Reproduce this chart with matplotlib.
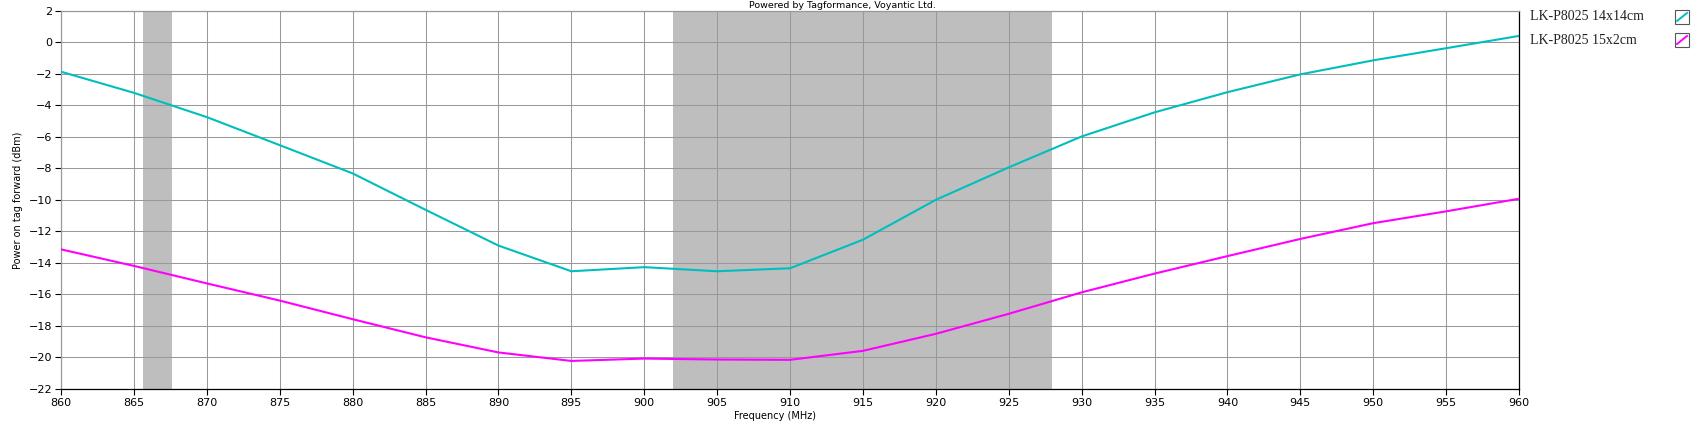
import matplotlib
matplotlib.use("Agg")
import matplotlib.pyplot as plt
from matplotlib.patches import Rectangle
from matplotlib.lines import Line2D

freq = [860, 865, 870, 875, 880, 885, 890, 895, 900, 905, 910,
        915, 920, 925, 930, 935, 940, 945, 950, 955, 960]
tag_14x14 = [-1.87, -3.21, -4.75, -6.53, -8.32, -10.63, -12.9, -14.53, -14.27, -14.53, -14.34,
             -12.53, -10.0, -7.94, -5.98, -4.45, -3.17, -2.04, -1.15, -0.38, 0.4]
tag_15x2 = [-13.14, -14.19, -15.3, -16.39, -17.57, -18.72, -19.68, -20.22, -20.07, -20.13, -20.15,
            -19.58, -18.5, -17.23, -15.87, -14.68, -13.57, -12.48, -11.48, -10.73, -9.93]
labels = ["LK-P8025 14x14cm", "LK-P8025 15x2cm"]
colors = ["#00BEBE", "#FF00FF"]
bands = [(865.6, 867.6), (902, 928)]

plt.rcParams['font.family'] = ['DejaVu Sans']

fig = plt.figure(figsize=(17.04, 4.40), dpi=100)
ax = fig.add_axes([61/1704, 1 - 389/440, (1519 - 61)/1704, (389 - 10.7)/440])

for lo, hi in bands:
    ax.axvspan(lo, hi, color="#BEBEBE", zorder=0, lw=0)

ax.plot(freq, tag_14x14, color=colors[0], lw=1.5, zorder=3)
ax.plot(freq, tag_15x2, color=colors[1], lw=1.5, zorder=3)

ax.set_xlim(860, 960)
ax.set_ylim(-22, 2)
ax.set_xticks(range(860, 961, 5))
ax.set_yticks(range(-22, 3, 2))
ax.set_axisbelow(True)
ax.grid(True, color="#999999", lw=0.75)
ax.tick_params(axis="both", direction="out", length=4.5, width=0.8, color="black",
               labelsize=8, pad=2)

ax.spines["top"].set_color("#999999")
ax.spines["left"].set_color("#999999")
ax.spines["bottom"].set_color("black")
ax.spines["right"].set_color("black")
for s in ax.spines.values():
    s.set_linewidth(0.9)

ax.set_xlabel("Frequency (MHz)", fontsize=7)
ax.xaxis.set_label_coords(0.49, -0.058)
ax.set_ylabel("Power on tag forward (dBm)", fontsize=7)
ax.yaxis.set_label_coords(-0.026, 0.5)

fig.text(842/1704, 1 - 6/440, "Powered by Tagformance, Voyantic Ltd.", fontsize=6.8,
         ha="center", va="center")

# legend at right with small checkbox-style swatches
for i, (lab, c) in enumerate(zip(labels, colors)):
    yc = 17 + i * 23
    fig.text(1530/1704, 1 - yc/440, lab, fontsize=10, family="Liberation Serif",
             color="#222222", ha="left", va="center")
    x0, x1 = 1675/1704, 1689/1704
    y0, y1 = 1 - (yc + 7)/440, 1 - (yc - 7)/440
    fig.patches.append(Rectangle((x0, y0), x1 - x0, y1 - y0, transform=fig.transFigure,
                                 fill=False, edgecolor="#555555", lw=0.8))
    fig.lines.append(Line2D([x0 + 2/1704, x1 - 2/1704], [y0 + 3/440, y1 - 3/440],
                            transform=fig.transFigure, color=c, lw=1.4))

fig.savefig("out.png", dpi=100)
